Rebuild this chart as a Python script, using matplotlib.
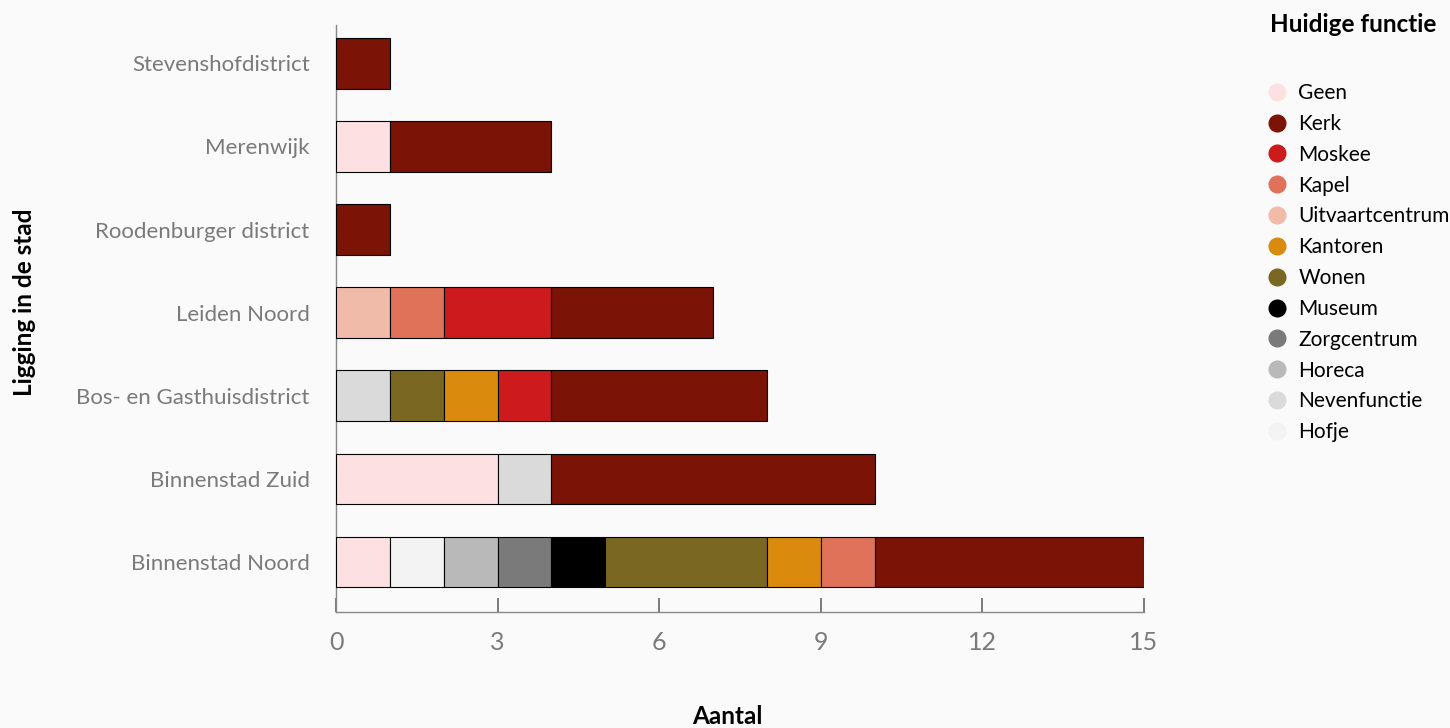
import matplotlib
matplotlib.use("Agg")
import matplotlib.pyplot as plt
from matplotlib.lines import Line2D

plt.rcParams['font.family'] = ['Lato', 'DejaVu Sans']

regions = ['Binnenstad Noord', 'Binnenstad Zuid', 'Bos- en Gasthuisdistrict',
           'Leiden Noord', 'Roodenburger district', 'Merenwijk', 'Stevenshofdistrict']

# stacking order (left to right)
stack_order = ['Geen', 'Hofje', 'Nevenfunctie', 'Horeca', 'Zorgcentrum', 'Museum',
               'Wonen', 'Kantoren', 'Uitvaartcentrum', 'Kapel', 'Moskee', 'Kerk']
legend_order = ['Geen', 'Kerk', 'Moskee', 'Kapel', 'Uitvaartcentrum', 'Kantoren',
                'Wonen', 'Museum', 'Zorgcentrum', 'Horeca', 'Nevenfunctie', 'Hofje']

geen = [1, 3, 0, 0, 0, 1, 0]
hofje = [1, 0, 0, 0, 0, 0, 0]
nevenfunctie = [0, 1, 1, 0, 0, 0, 0]
horeca = [1, 0, 0, 0, 0, 0, 0]
zorgcentrum = [1, 0, 0, 0, 0, 0, 0]
museum = [1, 0, 0, 0, 0, 0, 0]
wonen = [3, 0, 1, 0, 0, 0, 0]
kantoren = [1, 0, 1, 0, 0, 0, 0]
uitvaartcentrum = [0, 0, 0, 1, 0, 0, 0]
kapel = [1, 0, 0, 1, 0, 0, 0]
moskee = [0, 0, 1, 2, 0, 0, 0]
kerk = [5, 6, 4, 3, 1, 3, 1]

values = {
    'Geen': geen, 'Hofje': hofje, 'Nevenfunctie': nevenfunctie, 'Horeca': horeca,
    'Zorgcentrum': zorgcentrum, 'Museum': museum, 'Wonen': wonen, 'Kantoren': kantoren,
    'Uitvaartcentrum': uitvaartcentrum, 'Kapel': kapel, 'Moskee': moskee, 'Kerk': kerk,
}

colors = {
    'Geen': '#fde1e2', 'Kerk': '#7b1307', 'Moskee': '#cc1a1d', 'Kapel': '#e07259',
    'Uitvaartcentrum': '#f0bba8', 'Kantoren': '#da8b0e', 'Wonen': '#7a6722',
    'Museum': '#000000', 'Zorgcentrum': '#7a7a7a', 'Horeca': '#b9b9b9',
    'Nevenfunctie': '#dadada', 'Hofje': '#f3f3f3',
}

x_ticks = [0, 3, 6, 9, 12, 15]

bg = '#fafafa'
fig = plt.figure(figsize=(14.5, 7.28), dpi=100, facecolor=bg)
ax = fig.add_axes([336 / 1450, 1 - 612 / 728, (1144 - 336) / 1450, (612 - 25) / 728])
ax.set_facecolor(bg)

left = [0] * len(regions)
for cat in stack_order:
    vals = values[cat]
    for i, v in enumerate(vals):
        if v > 0:
            ax.barh(i, v, left=left[i], height=0.61, color=colors[cat],
                    edgecolor='black', linewidth=0.8, zorder=3)
    left = [l + v for l, v in zip(left, vals)]

ax.set_xlim(0, 15)
ax.set_ylim(-0.6, 6.46)
ax.set_yticks(range(len(regions)))
ax.set_yticklabels(regions)
ax.set_xticks(x_ticks)
ax.set_xticklabels([str(t) for t in x_ticks])

for s in ['top', 'right']:
    ax.spines[s].set_visible(False)
for s in ['left', 'bottom']:
    ax.spines[s].set_color('#888888')
    ax.spines[s].set_linewidth(1.0)

ax.tick_params(axis='y', length=0, pad=19, labelsize=16, labelcolor='#7a7a7a')
ax.tick_params(axis='x', direction='in', length=10, width=1.2, color='#666666',
               pad=14, labelsize=18, labelcolor='#7a7a7a')

fig.text(25 / 1450, 1 - 302 / 728, 'Ligging in de stad', rotation=90, ha='center',
         va='center', fontsize=17.5, fontweight='bold', color='black')
fig.text(727 / 1450, 1 - 717 / 728, 'Aantal', ha='center', va='center',
         fontsize=17.5, fontweight='bold', color='black')

fig.text(1270 / 1450, 1 - 25 / 728, 'Huidige functie', ha='left', va='center',
         fontsize=17.5, fontweight='bold', color='black')

handles = [Line2D([0], [0], marker='o', linestyle='none', markersize=12,
                  markerfacecolor=colors[c], markeredgecolor=colors[c], label=c)
           for c in legend_order]
leg = fig.legend(handles=handles, loc='upper left',
                 bbox_to_anchor=(1264 / 1450, 1 - 83 / 728), frameon=False,
                 fontsize=15, labelspacing=0.52, handletextpad=0.45,
                 handlelength=1.2, borderpad=0, borderaxespad=0)
for t in leg.get_texts():
    t.set_color('black')

fig.savefig('out.png', dpi=100, facecolor=bg)
